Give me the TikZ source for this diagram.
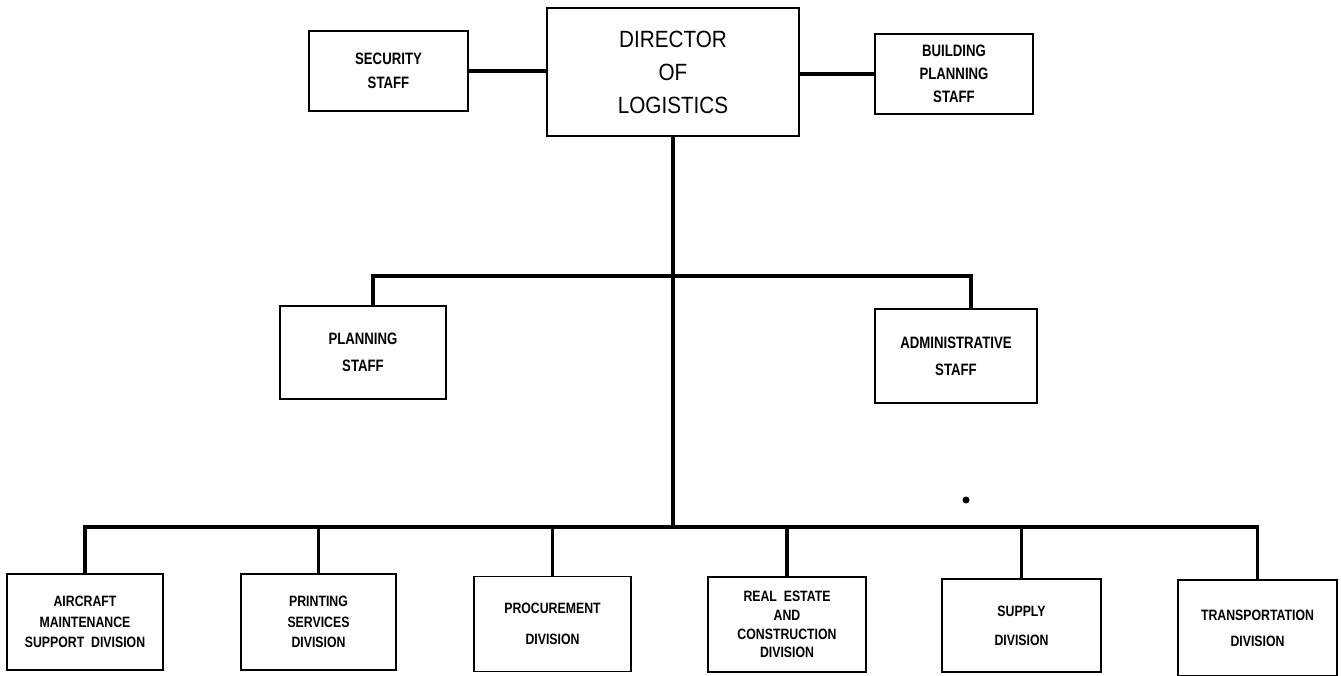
\documentclass[tikz,border=0pt]{standalone}
\usepackage{fontspec}
\setmainfont[FakeStretch=0.88]{Liberation Sans}
\newfontfamily\narrowfont[FakeStretch=0.8]{Liberation Sans}
\newfontfamily\divfont[FakeStretch=0.82]{Liberation Sans}
\begin{document}
\begin{tikzpicture}[x=1pt,y=-1pt,
  box/.style={draw, line width=1.6pt, align=center, inner sep=0pt},
  topbox/.style={box, font=\narrowfont\bfseries\fontsize{16.5}{24}\selectfont},
  midbox/.style={box, font=\narrowfont\bfseries\fontsize{16.5}{27}\selectfont},
  divbox/.style={box, font=\divfont\bfseries\fontsize{15}{20.5}\selectfont},
  link/.style={line width=3.4pt, line cap=rect}]
\useasboundingbox (0,0) rectangle (1341,675);

% director and his staff
\node[box, font=\fontsize{23.5}{33}\selectfont, minimum width=252, minimum height=128]
  (dir) at (673,72) {DIRECTOR\\OF\\LOGISTICS};
\node[topbox, minimum width=159, minimum height=80] (sec) at (388.5,71) {SECURITY\\STAFF};
\node[topbox, minimum width=158, minimum height=80, font=\narrowfont\bfseries\fontsize{16.5}{23}\selectfont]
  (bld) at (954,74) {BUILDING\\PLANNING\\STAFF};

% staff offices
\node[midbox, minimum width=166, minimum height=93] (plan) at (363,352.5) {PLANNING\\STAFF};
\node[midbox, minimum width=162, minimum height=94] (adm) at (956,356) {ADMINISTRATIVE\\STAFF};

% divisions
\node[divbox, minimum width=156, minimum height=96] (air) at (85,622)
  {AIRCRAFT\\MAINTENANCE\\SUPPORT\ \ DIVISION};
\node[divbox, minimum width=155, minimum height=96] (prt) at (318.5,622)
  {PRINTING\\SERVICES\\DIVISION};
\node[divbox, minimum width=157, minimum height=95, font=\divfont\bfseries\fontsize{15}{31}\selectfont]
  (proc) at (552.5,624) {PROCUREMENT\\DIVISION};
\node[divbox, minimum width=158, minimum height=95, font=\divfont\bfseries\fontsize{15}{18.8}\selectfont]
  (re) at (787,624.5) {REAL\ \ ESTATE\\AND\\CONSTRUCTION\\DIVISION};
\node[divbox, minimum width=159, minimum height=93, font=\divfont\bfseries\fontsize{15}{29}\selectfont]
  (sup) at (1021.5,625.5) {SUPPLY\\DIVISION};
\node[divbox, minimum width=159, minimum height=96, font=\divfont\bfseries\fontsize{15}{26}\selectfont]
  (trn) at (1257.5,628) {TRANSPORTATION\\DIVISION};

% bus junctions on the main trunk
\coordinate (midbus) at (673,276);
\coordinate (lowbus) at (673,527);

% connectors
\draw[link] (sec.east) -- (sec.east -| dir.west);
\draw[link] (bld.west) -- (bld.west -| dir.east);
\draw[link] (dir.south) -- (lowbus);
\draw[link] ([xshift=10]plan.north) |- (midbus) -| ([xshift=15]adm.north);
\draw[link] (air.north) |- (lowbus) -| (trn.north);
\foreach \n in {prt,proc,re,sup}
  \draw[link] (\n.north) -- (\n.north |- lowbus);

% stray ink dot
\fill (966,500) circle (3.5);
\end{tikzpicture}
\end{document}
